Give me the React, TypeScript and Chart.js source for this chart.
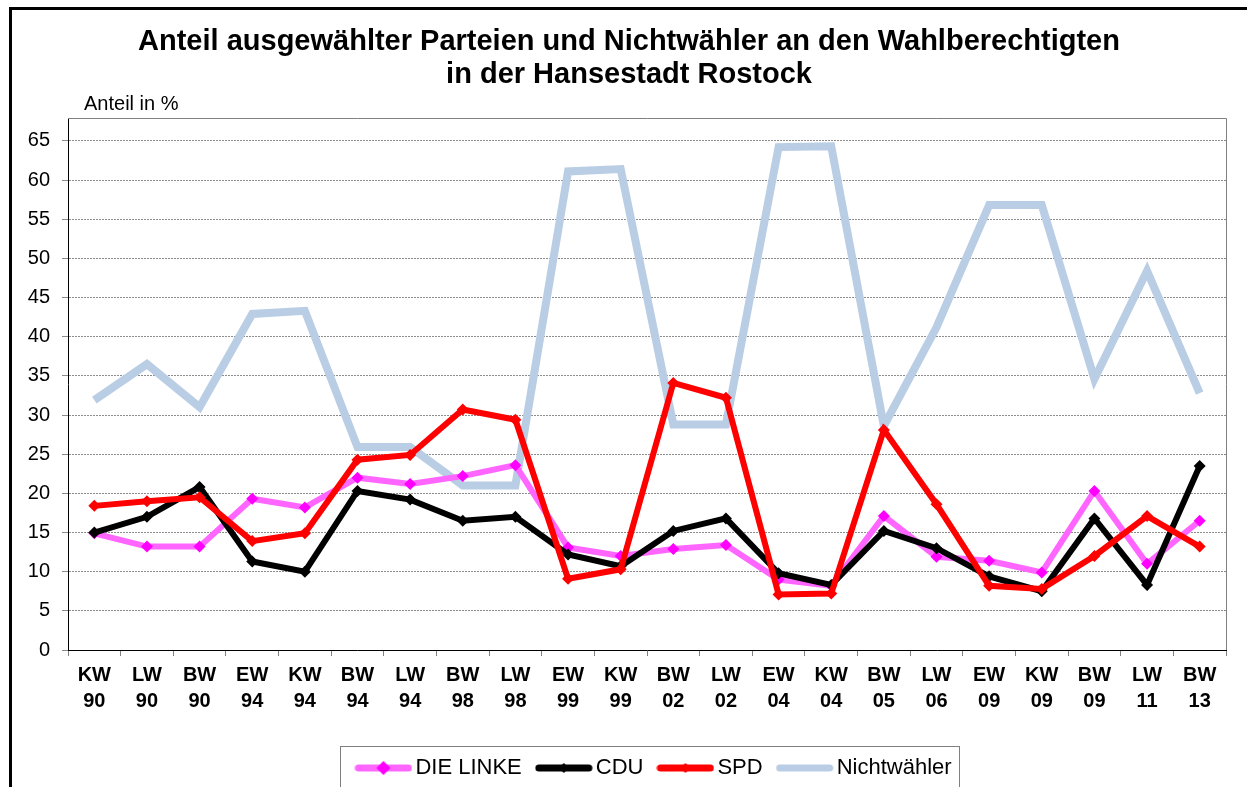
import React, { useEffect, useRef } from "react";
import { Chart, registerables } from "chart.js";

Chart.register(...registerables);

// ---------- data ----------
const categories: string[][] = [
  ["KW", "90"], ["LW", "90"], ["BW", "90"], ["EW", "94"], ["KW", "94"], ["BW", "94"],
  ["LW", "94"], ["BW", "98"], ["LW", "98"], ["EW", "99"], ["KW", "99"], ["BW", "02"],
  ["LW", "02"], ["EW", "04"], ["KW", "04"], ["BW", "05"], ["LW", "06"], ["EW", "09"],
  ["KW", "09"], ["BW", "09"], ["LW", "11"], ["BW", "13"],
];
const dieLinke = [14.9, 13.2, 13.2, 19.3, 18.2, 22.0, 21.2, 22.2, 23.6, 13.1, 12.0, 12.9, 13.4, 9.0, 8.2, 17.1, 11.9, 11.4, 9.9, 20.3, 11.0, 16.5];
const cdu = [15.0, 17.0, 20.8, 11.3, 10.0, 20.3, 19.2, 16.5, 17.0, 12.2, 10.7, 15.2, 16.8, 9.8, 8.3, 15.2, 13.0, 9.4, 7.5, 16.8, 8.3, 23.5];
const spd = [18.4, 19.0, 19.5, 13.9, 14.9, 24.3, 24.9, 30.7, 29.4, 9.1, 10.3, 34.1, 32.2, 7.1, 7.2, 28.1, 18.6, 8.2, 7.8, 12.0, 17.1, 13.2];
const nichtwaehler = [31.9, 36.5, 31.0, 42.9, 43.3, 25.9, 25.9, 21.0, 21.0, 61.1, 61.4, 28.8, 28.8, 64.2, 64.3, 28.6, 41.2, 56.8, 56.8, 34.6, 48.4, 32.8];
const yTickValues = [0, 5, 10, 15, 20, 25, 30, 35, 40, 45, 50, 55, 60, 65];
const seriesNames = ["DIE LINKE", "CDU", "SPD", "Nichtwähler"];
const titleLines = ["Anteil ausgewählter Parteien und Nichtwähler an den Wahlberechtigten", "in der Hansestadt Rostock"];
const axisTitle = "Anteil in %";

const FONT = "'Liberation Sans', Arial, sans-serif";

function legendIcon(lineColor: string, markerColor: string | null, markerR: number, lw: number) {
  const c = document.createElement("canvas");
  c.width = 58;
  c.height = 18;
  const ctx = c.getContext("2d")!;
  ctx.strokeStyle = lineColor;
  ctx.lineWidth = lw;
  ctx.lineCap = "round";
  ctx.beginPath();
  ctx.moveTo(4, 9);
  ctx.lineTo(54, 9);
  ctx.stroke();
  if (markerColor) {
    ctx.fillStyle = markerColor;
    ctx.beginPath();
    ctx.moveTo(29, 9 - markerR);
    ctx.lineTo(29 + markerR, 9);
    ctx.lineTo(29, 9 + markerR);
    ctx.lineTo(29 - markerR, 9);
    ctx.closePath();
    ctx.fill();
  }
  return c;
}

const framePlugin = {
  id: "excelFrame",
  afterLayout(chart: any) {
    const t = chart.titleBlock;
    if (t) {
      const dx = 629 - (t.left + t.right) / 2;
      t.left += dx;
      t.right += dx;
    }
    chart.boxes.forEach((b: any) => {
      if (b !== chart.titleBlock && b.options && b.options.text === axisTitle) {
        const w = b.right - b.left;
        b.left = 84;
        b.right = 84 + w;
      }
    });
    const lg = chart.legend;
    if (lg) {
      const dx = 657 - (lg.left + lg.right) / 2;
      lg.left += dx;
      lg.right += dx;
      lg.top += 2;
      lg.bottom += 2;
    }
  },
  beforeDraw(chart: any) {
    const ctx = chart.ctx;
    ctx.save();
    ctx.fillStyle = "#ffffff";
    ctx.fillRect(0, 0, chart.width, chart.height);
    ctx.restore();
  },
  afterDraw(chart: any) {
    const ctx = chart.ctx;
    const a = chart.chartArea;
    ctx.save();
    // plot area top & right border
    ctx.strokeStyle = "#808080";
    ctx.lineWidth = 1;
    ctx.beginPath();
    ctx.moveTo(a.left, Math.round(a.top) + 0.5);
    ctx.lineTo(Math.round(a.right) + 0.5, Math.round(a.top) + 0.5);
    ctx.lineTo(Math.round(a.right) + 0.5, a.bottom);
    ctx.stroke();
    // legend box
    ctx.strokeStyle = "#7f7f7f";
    ctx.strokeRect(340.5, 746.5, 619, 80);
    // outer chart frame
    ctx.fillStyle = "#000000";
    ctx.fillRect(9, 7, 3, chart.height);
    ctx.fillRect(9, 7, chart.width, 3);
    ctx.restore();
  },
};

export default function App() {
  const ref = useRef<HTMLCanvasElement | null>(null);

  useEffect(() => {
    if (!ref.current) return;
    const icons = [
      legendIcon("#FF66FF", "#FF00FF", 7, 7),
      legendIcon("#000000", "#000000", 5, 7),
      legendIcon("#FF0000", "#FF0000", 5, 7),
      legendIcon("#B9CDE5", null, 0, 7),
    ];
    const chart = new Chart(ref.current, {
      type: "line",
      data: {
        labels: categories,
        datasets: [
          {
            label: seriesNames[0],
            data: dieLinke,
            borderColor: "#FF66FF",
            backgroundColor: "#FF00FF",
            borderWidth: 6,
            pointStyle: "rectRot",
            pointRadius: 6,
            pointBorderWidth: 0,
            pointBackgroundColor: "#FF00FF",
            order: 2,
          },
          {
            label: seriesNames[1],
            data: cdu,
            borderColor: "#000000",
            backgroundColor: "#000000",
            borderWidth: 6,
            pointStyle: "rectRot",
            pointRadius: 6,
            pointBorderWidth: 0,
            pointBackgroundColor: "#000000",
            order: 1,
          },
          {
            label: seriesNames[2],
            data: spd,
            borderColor: "#FF0000",
            backgroundColor: "#FF0000",
            borderWidth: 6,
            pointStyle: "rectRot",
            pointRadius: 6,
            pointBorderWidth: 0,
            pointBackgroundColor: "#FF0000",
            order: 0,
          },
          {
            label: seriesNames[3],
            data: nichtwaehler,
            borderColor: "#B9CDE5",
            backgroundColor: "#B9CDE5",
            borderWidth: 8,
            pointRadius: 0,
            order: 3,
          },
        ],
      },
      options: {
        responsive: false,
        animation: false,
        devicePixelRatio: 1,
        layout: { padding: { left: 0, right: 21, top: 0, bottom: 0 } },
        elements: { line: { tension: 0, borderJoinStyle: "miter" } },
        scales: {
          x: {
            type: "category",
            offset: true,
            afterFit: (s: any) => {
              s.height = 84;
            },
            grid: {
              display: true,
              drawOnChartArea: false,
              drawTicks: true,
              tickLength: 6,
              tickColor: "#808080",
              offset: true,
            },
            border: { display: true, color: "#000000", width: 1 },
            ticks: {
              autoSkip: false,
              maxRotation: 0,
              padding: 6,
              color: "#000000",
              font: { family: FONT, size: 20, weight: "bold", lineHeight: 1.3 },
            },
          },
          y: {
            type: "linear",
            min: 0,
            max: 67.9,
            afterFit: (s: any) => {
              s.width = 68;
            },
            afterBuildTicks: (s: any) => {
              s.ticks = yTickValues.map((v) => ({ value: v }));
            },
            grid: {
              color: (c: any) => (c.tick && c.tick.value === 0 ? "rgba(0,0,0,0)" : "#8c8c8c"),
              lineWidth: 1,
              drawTicks: true,
              tickLength: 6,
              tickColor: "#8c8c8c",
            },
            border: { display: true, color: "#000000", width: 1, dash: [2, 1] },
            ticks: {
              padding: 12,
              color: "#000000",
              font: { family: FONT, size: 20 },
              includeBounds: false,
            },
          },
        },
        plugins: {
          title: {
            display: true,
            text: titleLines,
            color: "#000000",
            font: { family: FONT, size: 29, weight: "bold", lineHeight: 1.14 },
            padding: { top: 25, bottom: 0 },
          },
          subtitle: {
            display: true,
            text: axisTitle,
            align: "start",
            color: "#000000",
            font: { family: FONT, size: 20, lineHeight: 1.2 },
            padding: { top: 1, bottom: 2 },
          },
          legend: {
            display: true,
            position: "bottom",
            labels: {
              usePointStyle: true,
              pointStyleWidth: 42,
              padding: 21,
              color: "#000000",
              font: { family: FONT, size: 22 },
              sort: (a: any, b: any) => a.datasetIndex - b.datasetIndex,
              generateLabels: (ch: any) => {
                const items = Chart.defaults.plugins.legend.labels.generateLabels(ch);
                items.forEach((it: any) => {
                  it.pointStyle = icons[it.datasetIndex];
                  it.fontColor = "#000000";
                });
                return items;
              },
            },
          },
          tooltip: { enabled: false },
        },
      },
      plugins: [framePlugin],
    } as any);
    return () => chart.destroy();
  }, []);

  return (
    <div style={{ position: "fixed", left: 0, top: 0, width: 1247, height: 787, background: "#fff" }}>
      <canvas ref={ref} width={1247} height={787} style={{ display: "block" }} />
    </div>
  );
}
